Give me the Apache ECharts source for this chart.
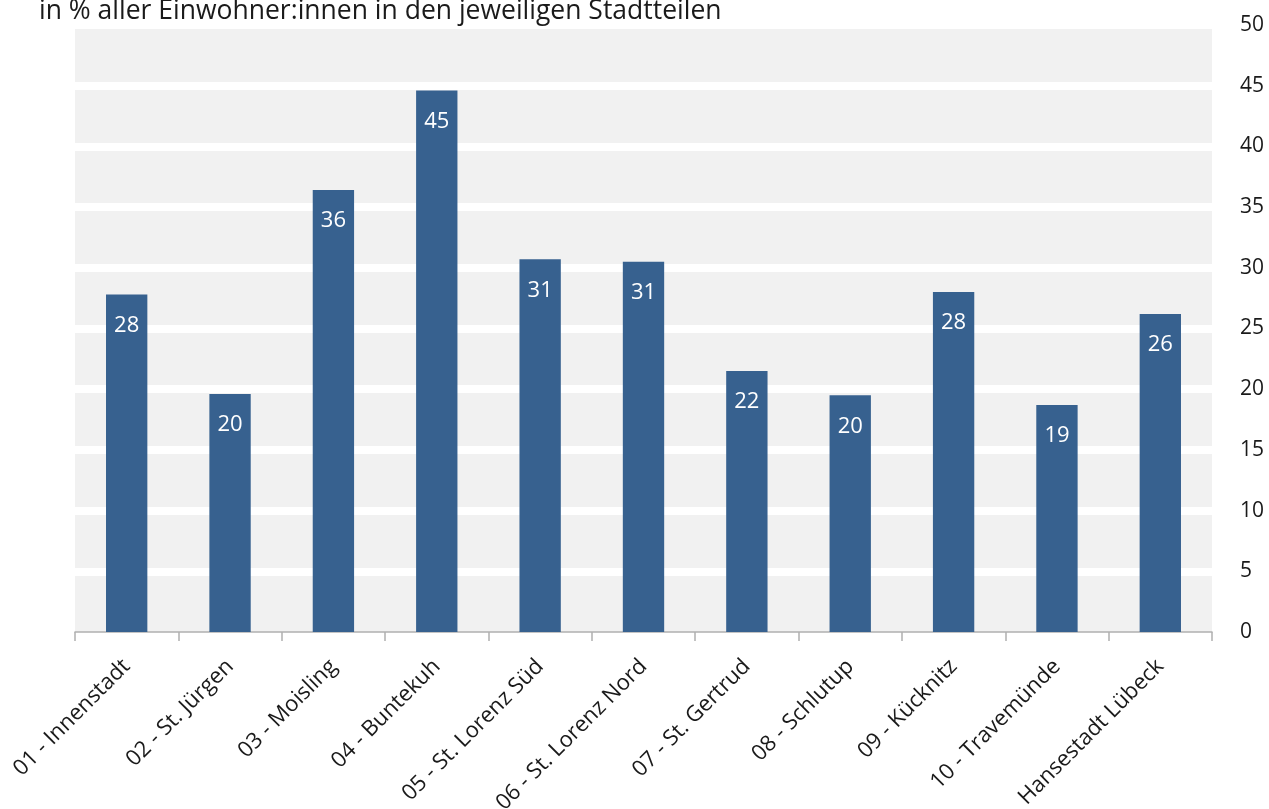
<!DOCTYPE html>
<html>
<head>
<meta charset="utf-8">
<script src="https://cdn.jsdelivr.net/npm/echarts@6/dist/echarts.min.js"></script>
<style>
  html, body { margin: 0; padding: 0; background: #fff; }
  #the-echart { width: 1269px; height: 809px; }
</style>
</head>
<body>
<div id="the-echart"></div>
<script>
// Anteil je Stadtteil, in %
const categories = [
  '01 - Innenstadt', '02 - St. Jürgen', '03 - Moisling', '04 - Buntekuh',
  '05 - St. Lorenz Süd', '06 - St. Lorenz Nord', '07 - St. Gertrud',
  '08 - Schlutup', '09 - Kücknitz', '10 - Travemünde', 'Hansestadt Lübeck'
]
const values = [27.8, 19.6, 36.4, 44.6, 30.7, 30.5, 21.5, 19.5, 28.0, 18.7, 26.2]
const titleText = 'in % aller Einwohner:innen in den jeweiligen Stadtteilen'

const chart = echarts.init(document.getElementById('the-echart'))
chart.setOption({
  animation: false,
  textStyle: { fontFamily: 'Open Sans' },
  title: {
    text: titleText,
    left: 34,
    top: -7,
    textStyle: { fontSize: 26.5, fontWeight: 'normal', color: '#1a1a1a', fontFamily: 'Open Sans' }
  },
  grid: {
    left: 75,
    right: 57,
    top: 25,
    bottom: 177,
    outerBoundsMode: 'none',
    show: true,
    backgroundColor: '#f1f1f1',
    borderWidth: 0
  },
  xAxis: {
    type: 'category',
    data: categories,
    axisLine: { lineStyle: { color: '#b0b0b0', width: 1.5 } },
    axisTick: { show: true, length: 9, lineStyle: { color: '#b0b0b0', width: 1.5 } },
    axisLabel: {
      rotate: 45,
      interval: 0,
      margin: 31,
      fontSize: 22,
      color: '#1a1a1a',
      fontFamily: 'Open Sans'
    }
  },
  yAxis: {
    type: 'value',
    position: 'right',
    min: 0,
    max: 50,
    interval: 5,
    axisLine: { show: false },
    axisTick: { show: false },
    axisLabel: {
      margin: 28,
      fontSize: 21,
      color: '#1a1a1a',
      fontFamily: 'Open Sans'
    },
    splitLine: {
      show: true,
      showMinLine: false,
      lineStyle: { color: '#ffffff', width: 8 }
    }
  },
  series: [{
    type: 'bar',
    data: values,
    barWidth: '40%',
    itemStyle: { color: '#37618f' },
    label: {
      show: true,
      position: 'insideTop',
      distance: 20,
      color: '#ffffff',
      fontSize: 22,
      fontFamily: 'Open Sans',
      formatter: function(p) { return Math.round(p.value) }
    }
  }]
})
</script>
</body>
</html>
